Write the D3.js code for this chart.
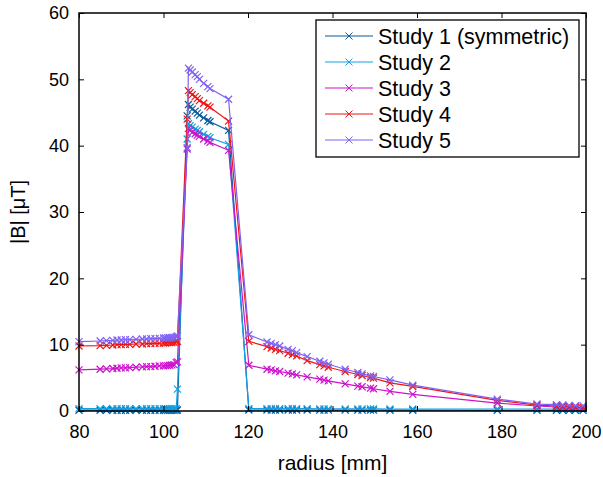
<!DOCTYPE html>
<html>
<head>
<meta charset="utf-8">
<script src="https://cdn.jsdelivr.net/npm/d3@7"></script>
<style>
  html, body { margin: 0; padding: 0; background: #fff; }
  svg { display: block; font-family: "Liberation Sans", Arial, Helvetica, sans-serif; }
</style>
</head>
<body>
<svg id="chart" width="603" height="477"></svg>
<script>
// ---------------- DATA ----------------
const radius = [
  80, 85, 86.5, 88, 89, 90, 91, 92, 93.5, 95, 96, 97, 98, 99, 100, 100.5, 101, 101.5, 102, 102.5, 103,
  103.3,
  105.6, 105.9, 106.3, 106.8, 107.5, 108, 108.5, 109.5, 110.5, 111, 115.4,
  120.2, 124.5, 125.5, 126.5, 127.5, 129.5, 130.5, 131.5, 134, 137, 138, 139, 143, 146, 147, 149, 149.7,
  153.6, 159, 179, 188.4, 193, 194.5, 196, 197.5, 199.3
];

const study1 = [
  0.12, 0.12, 0.12, 0.12, 0.12, 0.12, 0.12, 0.12, 0.12, 0.12, 0.12, 0.12, 0.12, 0.12, 0.12, 0.12, 0.12, 0.12, 0.12, 0.12, 0.12,
  0.15,
  44.5, 46.2, 45.8, 45.5, 45.2, 44.9, 44.6, 44.2, 43.8, 43.6, 42.3,
  0.15, 0.15, 0.15, 0.15, 0.15, 0.15, 0.15, 0.15, 0.15, 0.14, 0.14, 0.14, 0.14, 0.13, 0.13, 0.13, 0.13,
  0.12, 0.12, 0.1, 0.1, 0.1, 0.1, 0.1, 0.1, 0.1
];

const study2 = [
  0.35, 0.35, 0.35, 0.35, 0.35, 0.35, 0.35, 0.35, 0.35, 0.35, 0.35, 0.35, 0.35, 0.35, 0.35, 0.35, 0.35, 0.35, 0.35, 0.35, 0.35,
  3.3,
  41.0, 43.3, 43.0, 42.8, 42.5, 42.3, 42.1, 41.7, 41.4, 41.2, 40.2,
  0.35, 0.35, 0.35, 0.35, 0.35, 0.35, 0.35, 0.35, 0.35, 0.33, 0.33, 0.33, 0.33, 0.32, 0.32, 0.32, 0.32,
  0.3, 0.3, 0.3, 0.3, 0.3, 0.3, 0.3, 0.3, 0.3
];

const study3 = [
  6.2, 6.3, 6.35, 6.4, 6.45, 6.5, 6.5, 6.55, 6.6, 6.65, 6.7, 6.7, 6.75, 6.8, 6.8, 6.85, 6.85, 6.9, 6.95, 7.0, 7.3,
  7.4,
  39.5, 42.6, 42.3, 42.0, 41.8, 41.6, 41.4, 41.0, 40.7, 40.5, 39.3,
  6.9, 6.3, 6.2, 6.05, 5.95, 5.7, 5.6, 5.45, 5.15, 4.8, 4.65, 4.55, 4.1, 3.75, 3.65, 3.45, 3.35,
  2.95, 2.5, 1.2, 0.75, 0.6, 0.55, 0.5, 0.45, 0.4
];

const study4 = [
  9.8, 9.85, 9.9, 9.95, 10.0, 10.0, 10.05, 10.05, 10.1, 10.1, 10.15, 10.15, 10.2, 10.2, 10.25, 10.25, 10.3, 10.3, 10.3, 10.35, 10.4,
  10.5,
  44.0, 48.3, 48.0, 47.7, 47.4, 47.1, 46.8, 46.4, 46.0, 45.8, 43.7,
  10.5, 9.7, 9.5, 9.3, 9.1, 8.7, 8.5, 8.3, 7.6, 7.0, 6.8, 6.6, 5.95, 5.5, 5.35, 5.05, 4.95,
  4.25, 3.7, 1.6, 0.9, 0.75, 0.7, 0.65, 0.6, 0.55
];

const study5 = [
  10.45, 10.55, 10.6, 10.65, 10.7, 10.7, 10.75, 10.75, 10.8, 10.85, 10.85, 10.9, 10.9, 10.95, 11.0, 11.0, 11.05, 11.05, 11.1, 11.1, 11.2,
  11.3,
  39.7, 51.7, 51.4, 51.1, 50.7, 50.4, 50.0, 49.4, 48.9, 48.6, 47.0,
  11.5, 10.4, 10.2, 10.0, 9.8, 9.3, 9.1, 8.8, 8.2, 7.5, 7.25, 7.05, 6.3, 5.8, 5.6, 5.3, 5.2,
  4.7, 3.9, 1.8, 1.05, 0.95, 0.9, 0.85, 0.8, 0.8
];

const seriesNames = ["Study 1 (symmetric)", "Study 2", "Study 3", "Study 4", "Study 5"];
const seriesValues = [study1, study2, study3, study4, study5];
const seriesColors = ["#0a5c9c", "#14a0e4", "#cc14cc", "#f01414", "#8062f2"];

const xTicks = [80, 100, 120, 140, 160, 180, 200];
const yTicks = [0, 10, 20, 30, 40, 50, 60];
const xLabel = "radius [mm]";
const yLabel = "|B| [\u03BCT]";

// ---------------- LAYOUT ----------------
const svg = d3.select("#chart");
const L = 79, R = 586, T = 13, B = 411;

const x = d3.scaleLinear().domain([80, 200]).range([L, R]);
const y = d3.scaleLinear().domain([0, 60]).range([B, T]);

// Series lines and markers
const line = d3.line().x(d => x(d[0])).y(d => y(d[1]));
const plot = svg.append("g");
const markerPath = "M-3.5,-3.5L3.5,3.5M-3.5,3.5L3.5,-3.5";

seriesValues.forEach((vals, i) => {
  const pts = radius.map((r, k) => [r, vals[k]]);
  const g = plot.append("g");
  g.append("path")
    .attr("d", line(pts))
    .attr("fill", "none")
    .attr("stroke", seriesColors[i])
    .attr("stroke-width", 1.2);
  g.selectAll("path.m").data(pts).enter().append("path")
    .attr("class", "m")
    .attr("d", markerPath)
    .attr("transform", d => `translate(${x(d[0])},${y(d[1])})`)
    .attr("stroke", seriesColors[i])
    .attr("stroke-width", 1.2)
    .attr("fill", "none");
});

// Axes (inward ticks on all four sides)
function styleAxis(g, fontSize) {
  g.select(".domain").remove();
  g.selectAll(".tick line").attr("stroke", "#000").attr("stroke-width", 1);
  g.selectAll(".tick text").attr("fill", "#000").style("font-size", fontSize + "px")
    .style("font-family", "'Liberation Sans', Arial, Helvetica, sans-serif");
}

svg.append("g").attr("transform", `translate(0,${B})`)
  .call(d3.axisBottom(x).tickValues(xTicks).tickSizeInner(-5).tickSizeOuter(0).tickPadding(14).tickFormat(d3.format("d")))
  .call(g => styleAxis(g, 18));
svg.append("g").attr("transform", `translate(0,${T})`)
  .call(d3.axisTop(x).tickValues(xTicks).tickSizeInner(-5).tickSizeOuter(0).tickFormat(""))
  .call(g => styleAxis(g, 18));
svg.append("g").attr("transform", `translate(${L},0)`)
  .call(d3.axisLeft(y).tickValues(yTicks).tickSizeInner(-5).tickSizeOuter(0).tickPadding(10).tickFormat(d3.format("d")))
  .call(g => styleAxis(g, 18));
svg.append("g").attr("transform", `translate(${R},0)`)
  .call(d3.axisRight(y).tickValues(yTicks).tickSizeInner(-5).tickSizeOuter(0).tickFormat(""))
  .call(g => styleAxis(g, 18));

// Box
svg.append("rect")
  .attr("x", L).attr("y", T).attr("width", R - L).attr("height", B - T)
  .attr("fill", "none").attr("stroke", "#000").attr("stroke-width", 1.5);

// Axis labels
svg.append("text")
  .attr("x", (L + R) / 2).attr("y", 470)
  .attr("text-anchor", "middle")
  .style("font-size", "21px")
  .text(xLabel);

svg.append("text")
  .attr("transform", `translate(25,${(T + B) / 2}) rotate(-90)`)
  .attr("text-anchor", "middle")
  .style("font-size", "20px")
  .text(yLabel);

// Legend
const lg = svg.append("g");
lg.append("rect")
  .attr("x", 316).attr("y", 20).attr("width", 263).attr("height", 137)
  .attr("fill", "#fff").attr("stroke", "#000").attr("stroke-width", 1.3);
seriesNames.forEach((name, i) => {
  const cy = 36 + i * 26;
  lg.append("line")
    .attr("x1", 325).attr("x2", 373).attr("y1", cy).attr("y2", cy)
    .attr("stroke", seriesColors[i]).attr("stroke-width", 1.2);
  lg.append("path")
    .attr("d", markerPath)
    .attr("transform", `translate(349,${cy})`)
    .attr("stroke", seriesColors[i]).attr("fill", "none").attr("stroke-width", 1);
  lg.append("text")
    .attr("x", 378).attr("y", cy).attr("dy", "0.36em")
    .style("font-size", "21.5px")
    .text(name);
});
</script>
</body>
</html>
